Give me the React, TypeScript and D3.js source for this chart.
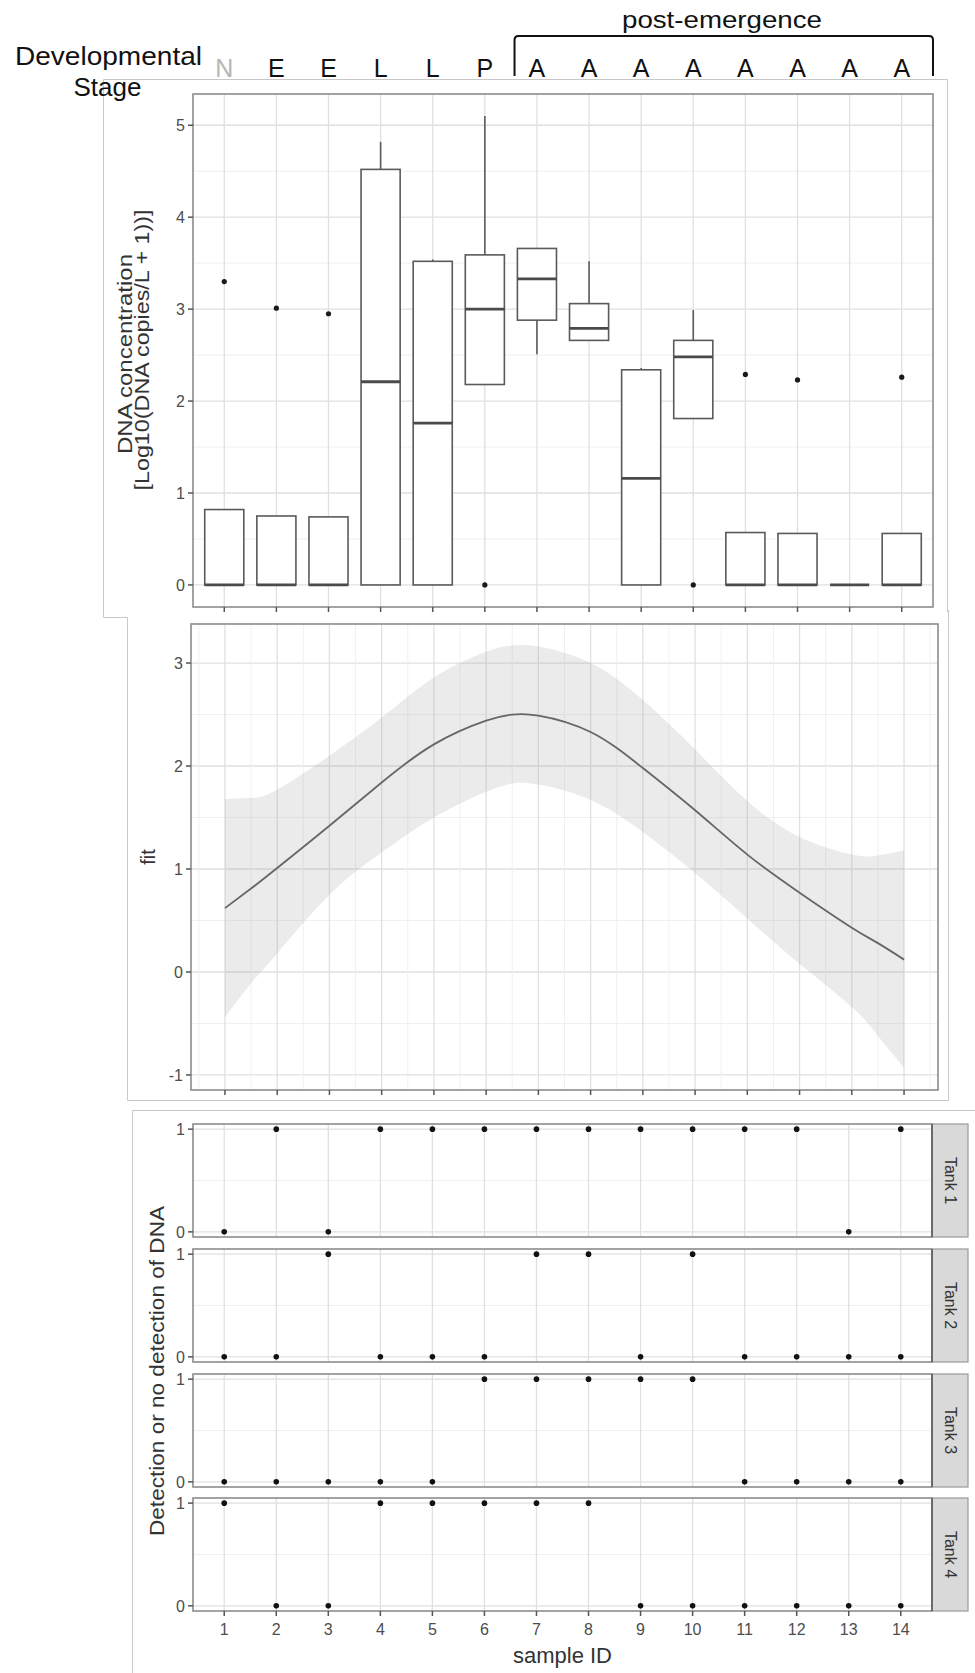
import React, { useEffect, useRef } from "react";
import * as d3 from "d3";

// sample ids + developmental stage per sample
const sampleIds = [1, 2, 3, 4, 5, 6, 7, 8, 9, 10, 11, 12, 13, 14];
const stages = ["N", "E", "E", "L", "L", "P", "A", "A", "A", "A", "A", "A", "A", "A"];

// boxplot stats, log10(DNA copies/L + 1)
const whiskerLow = [0, 0, 0, 0, 0, 2.18, 2.51, 2.66, 0, 1.81, 0, 0, 0, 0];
const boxQ1 = [0, 0, 0, 0, 0, 2.18, 2.88, 2.66, 0, 1.81, 0, 0, 0, 0];
const boxMedian = [0, 0, 0, 2.21, 1.76, 3.0, 3.33, 2.79, 1.16, 2.48, 0, 0, 0, 0];
const boxQ3 = [0.82, 0.75, 0.74, 4.52, 3.52, 3.59, 3.66, 3.06, 2.34, 2.66, 0.57, 0.56, 0, 0.56];
const whiskerHigh = [0.82, 0.75, 0.74, 4.82, 3.54, 5.1, 3.66, 3.52, 2.36, 2.99, 0.57, 0.56, 0, 0.56];
const outlierSample = [1, 2, 3, 6, 10, 11, 12, 14];
const outlierValue = [3.3, 3.01, 2.95, 0, 0, 2.29, 2.23, 2.26];

// smooth fit + confidence band
const fitX = [1, 1.5, 2, 3, 4, 5, 6, 6.5, 7, 8, 9, 10, 11, 12, 13, 13.5, 14];
const fitY = [0.62, 0.81, 1.01, 1.42, 1.84, 2.21, 2.44, 2.5, 2.49, 2.33, 1.98, 1.57, 1.14, 0.77, 0.43, 0.28, 0.12];
const fitUpper = [1.68, 1.69, 1.77, 2.1, 2.47, 2.86, 3.11, 3.17, 3.16, 3.0, 2.64, 2.16, 1.66, 1.31, 1.14, 1.13, 1.18];
const fitLower = [-0.44, -0.11, 0.18, 0.75, 1.16, 1.5, 1.75, 1.83, 1.82, 1.67, 1.36, 0.96, 0.52, 0.08, -0.34, -0.62, -0.93];

// detection (1) / no detection (0) per tank
const tankNames = ["Tank 1", "Tank 2", "Tank 3", "Tank 4"];
const tank1 = [0, 1, 0, 1, 1, 1, 1, 1, 1, 1, 1, 1, 0, 1];
const tank2 = [0, 0, 1, 0, 0, 0, 1, 1, 0, 1, 0, 0, 0, 0];
const tank3 = [0, 0, 0, 0, 0, 1, 1, 1, 1, 1, 0, 0, 0, 0];
const tank4 = [1, 0, 0, 1, 1, 1, 1, 1, 0, 0, 0, 0, 0, 0];

const topTicks = [0, 1, 2, 3, 4, 5];
const fitTicks = [-1, 0, 1, 2, 3];
const detTicks = [0, 1];

const W = 975;
const H = 1673;
const FONT = "'Liberation Sans', Arial, Helvetica, sans-serif";
const GRID = "#e0e0e0";
const GRID_MINOR = "#eeeeee";
const BORDER = "#8c8c8c";
const TICKTXT = "#4d4d4d";

const App = () => {
  const svgRef = useRef();

  useEffect(() => {
    const svg = d3.select(svgRef.current);
    svg.selectAll("*").remove();
    svg.attr("width", W).attr("height", H).attr("viewBox", [0, 0, W, H]);
    svg.append("rect").attr("width", W).attr("height", H).attr("fill", "white");

    // image frames of the stacked panels
    const frames = svg.append("g").attr("fill", "none").attr("stroke", "#c8c8c8").attr("stroke-width", 1);
    frames.append("path").attr("d", "M103.5,617.5V79.5H947.5V612");
    frames.append("path").attr("d", "M103.5,617.5H127.5V1100.5H948.5V610");
    frames.append("path").attr("d", "M975,1110.5H132.5V1673");

    // helper: y axis ticks + labels
    const yAxis = (g, y, ticks, left) => {
      ticks.forEach((t) => {
        g.append("line")
          .attr("x1", left - 5).attr("x2", left)
          .attr("y1", y(t)).attr("y2", y(t))
          .attr("stroke", "#555").attr("stroke-width", 1.5);
        g.append("text")
          .attr("x", left - 8).attr("y", y(t))
          .attr("dy", "0.36em")
          .attr("text-anchor", "end")
          .attr("fill", TICKTXT)
          .style("font-size", "16px")
          .text(t);
      });
    };
    const xTicks = (g, x, y0) => {
      sampleIds.forEach((s) => {
        g.append("line")
          .attr("x1", x(s)).attr("x2", x(s))
          .attr("y1", y0).attr("y2", y0 + 5)
          .attr("stroke", "#555").attr("stroke-width", 1.5);
      });
    };

    // ---------------- top: boxplots ----------------
    const tL = 193, tR = 933, tT = 94, tB = 607;
    const x = d3.scaleLinear().domain([0.4, 14.6]).range([tL, tR]);
    const y = d3.scaleLinear().domain([-0.24, 5.34]).range([tB, tT]);
    const top = svg.append("g").style("font-family", FONT);

    // header labels
    top.append("text")
      .attr("x", 15).attr("y", 65)
      .attr("textLength", 187).attr("lengthAdjust", "spacingAndGlyphs")
      .attr("fill", "#111").style("font-size", "26px")
      .text("Developmental");
    top.append("text")
      .attr("x", 107.5).attr("y", 96).attr("text-anchor", "middle")
      .attr("fill", "#111").style("font-size", "26px")
      .text("Stage");
    stages.forEach((st, i) => {
      top.append("text")
        .attr("x", x(sampleIds[i])).attr("y", 77)
        .attr("text-anchor", "middle")
        .attr("fill", st === "N" ? "#b5b5b5" : "#111")
        .style("font-size", "25px")
        .text(st);
    });
    const bl = x(6.57), br = x(14.6);
    top.append("path")
      .attr("d", `M${bl},76V40Q${bl},36 ${bl + 4},36H${br - 4}Q${br},36 ${br},40V76`)
      .attr("fill", "none").attr("stroke", "#111").attr("stroke-width", 2);
    top.append("text")
      .attr("x", 722).attr("y", 28).attr("text-anchor", "middle")
      .attr("textLength", 200).attr("lengthAdjust", "spacingAndGlyphs")
      .attr("fill", "#111").style("font-size", "24px")
      .text("post-emergence");

    // grid
    d3.range(0, 5.5, 0.5).forEach((v) => {
      top.append("line")
        .attr("x1", tL).attr("x2", tR).attr("y1", y(v)).attr("y2", y(v))
        .attr("stroke", v % 1 === 0 ? GRID : GRID_MINOR)
        .attr("stroke-width", v % 1 === 0 ? 1.3 : 0.9);
    });
    sampleIds.forEach((s) => {
      top.append("line")
        .attr("x1", x(s)).attr("x2", x(s)).attr("y1", tT).attr("y2", tB)
        .attr("stroke", GRID).attr("stroke-width", 1.3);
    });

    // boxes
    const bw = 0.75 * (x(2) - x(1));
    sampleIds.forEach((s, i) => {
      const cx = x(s);
      const g = top.append("g").attr("stroke", "#5a5a5a").attr("fill", "white");
      if (whiskerHigh[i] > boxQ3[i])
        g.append("line").attr("x1", cx).attr("x2", cx).attr("y1", y(boxQ3[i])).attr("y2", y(whiskerHigh[i])).attr("stroke-width", 1.6);
      if (whiskerLow[i] < boxQ1[i])
        g.append("line").attr("x1", cx).attr("x2", cx).attr("y1", y(boxQ1[i])).attr("y2", y(whiskerLow[i])).attr("stroke-width", 1.6);
      g.append("rect")
        .attr("x", cx - bw / 2).attr("width", bw)
        .attr("y", y(boxQ3[i])).attr("height", y(boxQ1[i]) - y(boxQ3[i]))
        .attr("stroke-width", 1.6);
      g.append("line")
        .attr("x1", cx - bw / 2).attr("x2", cx + bw / 2)
        .attr("y1", y(boxMedian[i])).attr("y2", y(boxMedian[i]))
        .attr("stroke", "#4a4a4a").attr("stroke-width", 2.8);
    });
    outlierSample.forEach((s, i) => {
      top.append("circle").attr("cx", x(s)).attr("cy", y(outlierValue[i])).attr("r", 2.6).attr("fill", "#1a1a1a");
    });

    top.append("rect")
      .attr("x", tL).attr("y", tT).attr("width", tR - tL).attr("height", tB - tT)
      .attr("fill", "none").attr("stroke", BORDER).attr("stroke-width", 1.6);
    yAxis(top, y, topTicks, tL);
    xTicks(top, x, tB);

    top.append("text")
      .attr("transform", "translate(125,354) rotate(-90)")
      .attr("text-anchor", "middle").attr("dominant-baseline", "central")
      .attr("textLength", 200).attr("lengthAdjust", "spacingAndGlyphs")
      .attr("fill", "#333").style("font-size", "20px")
      .text("DNA concentration");
    top.append("text")
      .attr("transform", "translate(142,350) rotate(-90)")
      .attr("text-anchor", "middle").attr("dominant-baseline", "central")
      .attr("textLength", 281).attr("lengthAdjust", "spacingAndGlyphs")
      .attr("fill", "#333").style("font-size", "20px")
      .text("[Log10(DNA copies/L + 1))]");

    // ---------------- middle: fit ----------------
    const mL = 191, mR = 938, mT = 624, mB = 1090;
    const xm = d3.scaleLinear().domain([0.35, 14.65]).range([mL, mR]);
    const ym = d3.scaleLinear().domain([-1.146, 3.379]).range([mB, mT]);
    const mid = svg.append("g").style("font-family", FONT);

    d3.range(-1, 3.5, 0.5).forEach((v) => {
      mid.append("line")
        .attr("x1", mL).attr("x2", mR).attr("y1", ym(v)).attr("y2", ym(v))
        .attr("stroke", v % 1 === 0 ? GRID : GRID_MINOR)
        .attr("stroke-width", v % 1 === 0 ? 1.3 : 0.9);
    });
    d3.range(0.5, 14.6, 0.5).forEach((v) => {
      mid.append("line")
        .attr("x1", xm(v)).attr("x2", xm(v)).attr("y1", mT).attr("y2", mB)
        .attr("stroke", v % 1 === 0 ? GRID : GRID_MINOR)
        .attr("stroke-width", v % 1 === 0 ? 1.3 : 0.9);
    });

    const fitData = fitX.map((v, i) => ({ x: v, y: fitY[i], lo: fitLower[i], hi: fitUpper[i] }));
    const band = d3.area()
      .x((d) => xm(d.x))
      .y0((d) => ym(d.lo))
      .y1((d) => ym(d.hi))
      .curve(d3.curveNatural);
    mid.append("path").attr("d", band(fitData)).attr("fill", "#999").attr("fill-opacity", 0.2);
    const line = d3.line().x((d) => xm(d.x)).y((d) => ym(d.y)).curve(d3.curveNatural);
    mid.append("path").attr("d", line(fitData)).attr("fill", "none").attr("stroke", "#666").attr("stroke-width", 1.8);

    mid.append("rect")
      .attr("x", mL).attr("y", mT).attr("width", mR - mL).attr("height", mB - mT)
      .attr("fill", "none").attr("stroke", BORDER).attr("stroke-width", 1.6);
    yAxis(mid, ym, fitTicks, mL);
    xTicks(mid, xm, mB);
    mid.append("text")
      .attr("transform", "translate(148,857) rotate(-90)")
      .attr("text-anchor", "middle").attr("dominant-baseline", "central")
      .attr("fill", "#333").style("font-size", "20px")
      .text("fit");

    // ---------------- bottom: detection facets ----------------
    const bL = 193, bR = 932, fH = 113, sW = 36;
    const facetTops = [1124, 1249, 1374, 1498];
    const tanks = [tank1, tank2, tank3, tank4];
    const xb = d3.scaleLinear().domain([0.4, 14.6]).range([bL, bR]);
    const bot = svg.append("g").style("font-family", FONT);

    tanks.forEach((vals, k) => {
      const ft = facetTops[k];
      const yb = d3.scaleLinear().domain([-0.05, 1.05]).range([ft + fH, ft]);
      const g = bot.append("g");
      [0, 0.5, 1].forEach((v) => {
        g.append("line")
          .attr("x1", bL).attr("x2", bR).attr("y1", yb(v)).attr("y2", yb(v))
          .attr("stroke", v === 0.5 ? GRID_MINOR : GRID)
          .attr("stroke-width", v === 0.5 ? 0.9 : 1.3);
      });
      sampleIds.forEach((s) => {
        g.append("line")
          .attr("x1", xb(s)).attr("x2", xb(s)).attr("y1", ft).attr("y2", ft + fH)
          .attr("stroke", GRID).attr("stroke-width", 1.3);
      });
      vals.forEach((v, i) => {
        g.append("circle").attr("cx", xb(sampleIds[i])).attr("cy", yb(v)).attr("r", 2.8).attr("fill", "#111");
      });
      g.append("rect")
        .attr("x", bL).attr("y", ft).attr("width", bR - bL).attr("height", fH)
        .attr("fill", "none").attr("stroke", BORDER).attr("stroke-width", 1.6);
      g.append("rect")
        .attr("x", bR).attr("y", ft).attr("width", sW).attr("height", fH)
        .attr("fill", "#d9d9d9").attr("stroke", "#9a9a9a").attr("stroke-width", 1.2);
      g.append("line")
        .attr("x1", bR).attr("x2", bR).attr("y1", ft).attr("y2", ft + fH)
        .attr("stroke", "#6a6a6a").attr("stroke-width", 2);
      g.append("text")
        .attr("transform", `translate(${bR + sW / 2},${ft + fH / 2}) rotate(90)`)
        .attr("text-anchor", "middle").attr("dominant-baseline", "central")
        .attr("fill", "#333").style("font-size", "16px")
        .text(tankNames[k]);
      yAxis(g, yb, detTicks, bL);
    });

    const lastBottom = facetTops[3] + fH;
    xTicks(bot, xb, lastBottom);
    sampleIds.forEach((s) => {
      bot.append("text")
        .attr("x", xb(s)).attr("y", lastBottom + 24)
        .attr("text-anchor", "middle").attr("fill", TICKTXT)
        .style("font-size", "16px")
        .text(s);
    });
    bot.append("text")
      .attr("x", (bL + bR) / 2).attr("y", 1663)
      .attr("text-anchor", "middle").attr("fill", "#333")
      .style("font-size", "22px")
      .text("sample ID");
    bot.append("text")
      .attr("transform", "translate(156,1371) rotate(-90)")
      .attr("text-anchor", "middle").attr("dominant-baseline", "central")
      .attr("textLength", 330).attr("lengthAdjust", "spacingAndGlyphs")
      .attr("fill", "#333").style("font-size", "21px")
      .text("Detection or no detection of DNA");
  }, []);

  return (
    <div style={{ position: "absolute", left: 0, top: 0 }}>
      <svg ref={svgRef} style={{ display: "block" }} />
    </div>
  );
};

export default App;
